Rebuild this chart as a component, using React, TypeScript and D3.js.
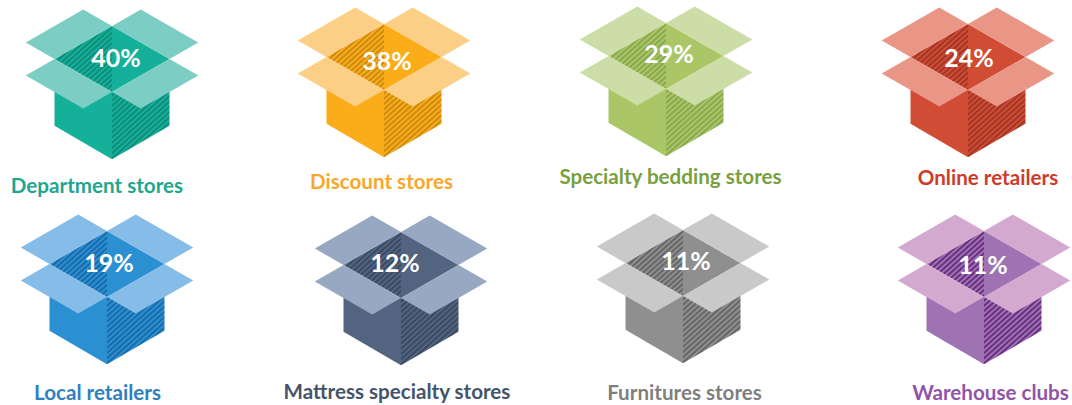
import React from "react";
import * as d3 from "d3";

const categories = ["Department stores","Discount stores","Specialty bedding stores","Online retailers","Local retailers","Mattress specialty stores","Furnitures stores","Warehouse clubs"];
const values = [40,38,29,24,19,12,11,11];
const boxColors = ["#15B09A","#FAAD19","#ABC667","#D04C34","#2B90D2","#52647F","#8F8F8F","#9E72B3"];
const flapColors = ["#7CCEC4","#FBCF85","#CDDDA8","#EA9687","#85BDE8","#97A9C2","#C9C9C9","#D4A9CF"];
const hatchColors = ["#0D8C7A","#CC8A12","#8AA84E","#A23624","#1A6AAA","#3A4A62","#666666","#6A2E80"];
const textColors = ["#1FA68F","#F9A72B","#78A040","#CF3B2B","#2F80C0","#44546A","#7F7F7F","#9055A8"];
const anchorX = [112,384,666,968,107,401,683,984];
const anchorY = [26,24,23,24,231,232,230,231];
const labelX = [97,381.5,670.5,988,97.5,397,684.5,990.5];
const labelY = [193,189,184,185,400,399,400,400];
const valueDX = [4,3,3,1,2,-6,3,-1];
const valueDY = [32,37,31,34,32,31,31,34];

// unit box shape, in isometric half-widths
const W = 57.5, H = 33;
const sx = d3.scaleLinear().domain([-1,1]).range([-W,W]);
const sy = d3.scaleLinear().domain([0,1]).range([0,H]);
const line = d3.line<[number,number]>().x(d=>sx(d[0])).y(d=>sy(d[1])).curve(d3.curveLinearClosed);

const faces = {
  innerL: [[0,0],[-1,1],[0,2]],
  innerR: [[0,0],[1,1],[0,2]],
  outerL: [[-1,1.97],[0,2],[0,4.04],[-1,3.02]],
  outerR: [[1,1.97],[0,2],[0,4.04],[1,3.02]],
  flapUL: [[0,0],[-1,1],[-1.5,0.5],[-0.5,-0.5]],
  flapUR: [[0,0],[1,1],[1.5,0.5],[0.5,-0.5]],
  flapLL: [[-1,1],[-1.5,1.5],[-0.5,2.5],[0,2]],
  flapLR: [[1,1],[1.5,1.5],[0.5,2.5],[0,2]],
} as Record<string,[number,number][]>;

export default function App() {
  return (
    <svg width={1072} height={405} style={{position:"absolute",left:0,top:0,background:"#fff"}}>
      <defs>
        {categories.map((c,i)=>(
          <pattern key={c} id={`h${i}`} width={5} height={5} patternUnits="userSpaceOnUse" patternTransform="rotate(-42 0 0) scale(0.78)">
            <rect width={5} height={5} fill={boxColors[i]} />
            <rect width={5} height={2.5} fill={hatchColors[i]} />
          </pattern>
        ))}
      </defs>
      {categories.map((c,i)=>(
        <g key={c}>
          <g transform={`translate(${anchorX[i]},${anchorY[i]})`}>
            <path d={line(faces.outerL)!} fill={boxColors[i]} />
            <path d={line(faces.outerR)!} fill={`url(#h${i})`} />
            <path d={line(faces.innerL)!} fill={`url(#h${i})`} />
            <path d={line(faces.innerR)!} fill={boxColors[i]} />
            <path d={line(faces.flapUL)!} fill={flapColors[i]} />
            <path d={line(faces.flapUR)!} fill={flapColors[i]} />
            <path d={line(faces.flapLL)!} fill={flapColors[i]} />
            <path d={line(faces.flapLR)!} fill={flapColors[i]} />
            <text x={valueDX[i]} y={valueDY[i]+9} textAnchor="middle" fill="#fff" fontFamily="Lato, sans-serif" fontWeight={700} fontSize={25}>{values[i]}%</text>
          </g>
          <text x={labelX[i]} y={labelY[i]} textAnchor="middle" fill={textColors[i]} fontFamily="Lato, sans-serif" fontWeight={700} fontSize={20.6}>{c}</text>
        </g>
      ))}
    </svg>
  );
}
